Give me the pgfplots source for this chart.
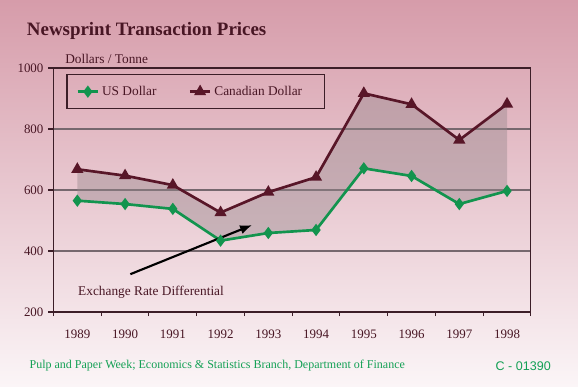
\documentclass[border=0pt]{standalone}
\usepackage{pgfplots}
\pgfplotsset{compat=1.18}
\usetikzlibrary{arrows.meta}
\usepackage{fontspec}
\setmainfont{Liberation Serif}
\definecolor{bgtop}{RGB}{214,156,170}
\definecolor{bgmid}{RGB}{232,192,201}
\definecolor{bgbot}{RGB}{251,245,247}
\definecolor{maroon}{RGB}{88,22,40}
\definecolor{txt}{RGB}{72,22,36}
\definecolor{usgreen}{RGB}{18,148,78}
\definecolor{srcgreen}{RGB}{20,160,85}
\definecolor{gridc}{RGB}{118,104,110}
\definecolor{framec}{RGB}{60,30,40}
\definecolor{fillc}{RGB}{150,135,140}
\begin{document}
\begin{tikzpicture}
\useasboundingbox (0pt,0pt) rectangle (433.5pt,289.5pt);
\shade[top color=bgtop, middle color=bgmid, bottom color=bgbot] (0pt,0pt) rectangle (433.5pt,289.5pt);
\node[anchor=base west, text=txt, font=\fontsize{14.2}{16}\selectfont\bfseries, inner sep=0pt] at (20pt,262.5pt) {Newsprint Transaction Prices};
\node[anchor=base west, text=txt, font=\fontsize{10}{12}\selectfont, inner sep=0pt] at (48.75pt,241.5pt) {Dollars / Tonne};
\node[anchor=west, text=srcgreen, font=\fontsize{9}{10}\selectfont, inner sep=0pt] at (22pt,15pt) {Pulp and Paper Week; Economics \& Statistics Branch, Department of Finance};
\node[anchor=east, text=srcgreen, font=\fontsize{9.4}{11}\selectfont\fontspec{Liberation Sans}, inner sep=0pt] at (413.25pt,15pt) {C - 01390};
\begin{axis}[
  at={(40.1pt,55.5pt)}, anchor=south west,
  scale only axis, width=358.1pt, height=183pt,
  xmin=-0.5, xmax=9.5, ymin=200, ymax=1000,
  xtick={0,...,9},
  xticklabels={1989,1990,1991,1992,1993,1994,1995,1996,1997,1998},
  minor xtick={-0.5,0.5,...,9.5},
  ytick={200,400,600,800,1000},
  xtick pos=lower, ytick pos=left,
  tick align=outside,
  major tick length=4pt, minor tick length=3pt,
  x tick style={draw=none},
  minor x tick style={draw=framec, line width=0.8pt},
  y tick style={draw=framec, line width=0.8pt},
  ymajorgrids, grid style={gridc, line width=1.1pt},
  axis line style={framec, line width=0.8pt},
  tick label style={text=txt, font=\fontsize{9.7}{11}\selectfont},
  /pgf/number format/assume math mode=true,
  /pgf/number format/1000 sep={},
  xticklabel style={yshift=-5.8pt},
  clip=false,
  legend columns=2,
  legend style={at={(0.027,0.975)}, anchor=north west, draw=framec, line width=0.9pt, fill=none,
    inner xsep=7pt, inner ysep=6.5pt, font=\fontsize{10}{12}\selectfont, text=txt,
    /tikz/every even column/.append style={column sep=22pt}},
  legend image code/.code={\draw[mark repeat=2,mark phase=2] plot coordinates {(0cm,0cm) (0.27cm,0cm) (0.54cm,0cm)};},
]
\addplot[fill=fillc, fill opacity=0.42, draw=none, forget plot]
  coordinates {(0,565) (1,554) (2,538) (3,434) (4,459) (5,469) (6,671) (7,646) (8,554) (9,597)
               (9,882) (8,764) (7,881) (6,917) (5,642) (4,593) (3,526) (2,616) (1,647) (0,668)} -- cycle;
\addplot[usgreen, line width=2pt, mark=diamond*, mark size=3pt, mark options={fill=usgreen}]
  coordinates {(0,565) (1,554) (2,538) (3,434) (4,459) (5,469) (6,671) (7,646) (8,554) (9,597)};
\addlegendentry{US Dollar}
\addplot[maroon, line width=2pt, mark=triangle*, mark size=3.3pt, mark options={fill=maroon}]
  coordinates {(0,668) (1,647) (2,616) (3,526) (4,593) (5,642) (6,917) (7,881) (8,764) (9,882)};
\addlegendentry{\mbox{Canadian Dollar\hspace*{8pt}}}
\draw[black, line width=1.6pt, -{Latex[length=9pt,width=7pt]}] (axis cs:1.11,324) -- (axis cs:3.66,485);
\node[anchor=west, text=txt, font=\fontsize{10}{12}\selectfont, inner sep=0pt] at (axis cs:0.013,266) {Exchange Rate Differential};
\end{axis}
\end{tikzpicture}
\end{document}
